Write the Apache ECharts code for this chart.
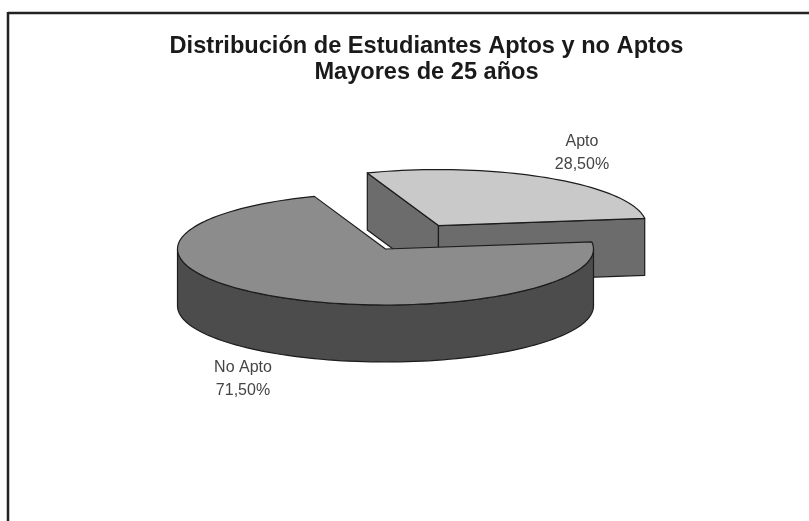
<!DOCTYPE html>
<html>
<head>
<meta charset="utf-8">
<title>Distribución de Estudiantes Aptos y no Aptos</title>
<script src="https://cdn.jsdelivr.net/npm/echarts@6/dist/echarts.min.js"></script>
<style>
  html, body { margin: 0; padding: 0; background: #fff; }
  #chart { width: 809px; height: 521px; }
</style>
</head>
<body>
<div id="chart"></div>
<script>
const categories = ['Apto', 'No Apto']
const percents = [28.5, 71.5]
const titleLines = ['Distribución de Estudiantes Aptos y no Aptos', 'Mayores de 25 años']

// first slice starts here, angles run clockwise as in the original spreadsheet chart
const START_DEG = 110
const EXPLODE = 0.49
const CENTER = [385.5, 249]
const RX = 208
const RY = 56
const DEPTH = 57

const TOP_COLORS = ['#c9c9c9', '#8c8c8c']
const WALL_COLORS = ['#6c6c6c', '#4c4c4c']
const EDGE = '#1c1c1c'
const LABEL_POS = [[582, 153], [243, 379]]

// slice angles in math degrees, built from the percents
const total = percents.reduce((a, b) => a + b, 0)
const slices = []
let cursor = START_DEG
percents.forEach(p => {
  const sweep = p / total * 360
  slices.push({ from: cursor, to: cursor - sweep })
  cursor -= sweep
})

function rim(cx, cy, deg) {
  const r = deg * Math.PI / 180
  return [cx + RX * Math.cos(r), cy - RY * Math.sin(r)]
}

function arcPoints(cx, cy, from, to) {
  const steps = Math.ceil(Math.abs(to - from) / 2)
  const pts = []
  for (let i = 0; i <= steps; i++) pts.push(rim(cx, cy, from + (to - from) * i / steps))
  return pts
}

function poly(points, fill) {
  return {
    type: 'polygon',
    shape: { points },
    style: { fill, stroke: EDGE, lineWidth: 1.2, lineJoin: 'round' }
  }
}

function drop(points) {
  return points.map(p => [p[0], p[1] + DEPTH])
}

function renderSlice(params) {
  const i = params.dataIndex
  const s = slices[i]
  const mid = (s.from + s.to) / 2 * Math.PI / 180
  // an exploded slice slides along its own middle angle
  const off = i === 0 ? EXPLODE : 0
  const cx = CENTER[0] + off * RX * Math.cos(mid)
  const cy = CENTER[1] - off * RY * Math.sin(mid)
  const apex = [cx, cy]
  const a = rim(cx, cy, s.from)
  const b = rim(cx, cy, s.to)
  const children = []

  if (i === 0) {
    // cut faces of the pulled out slice
    children.push(poly([apex, a, ...drop([a]), ...drop([apex])], WALL_COLORS[0]))
    children.push(poly([apex, b, ...drop([b]), ...drop([apex])], WALL_COLORS[0]))
  } else {
    // outer wall, only the front half of the ellipse shows
    const front = arcPoints(cx, cy, -180, 0)
    children.push(poly([...front, ...drop(front).reverse()], WALL_COLORS[1]))
  }
  children.push(poly([apex, ...arcPoints(cx, cy, s.from, s.to)], TOP_COLORS[i]))

  const label = categories[i] + '\n' + percents[i].toFixed(2).replace('.', ',') + '%'
  children.push({
    type: 'text',
    style: {
      x: LABEL_POS[i][0],
      y: LABEL_POS[i][1],
      text: label,
      fill: '#444444',
      font: '16px "Liberation Sans"',
      lineHeight: 23,
      align: 'center',
      verticalAlign: 'middle'
    }
  })
  return { type: 'group', children }
}

const chart = echarts.init(document.getElementById('chart'), null, { renderer: 'canvas' })
chart.setOption({
  animation: false,
  backgroundColor: '#ffffff',
  title: {
    text: titleLines[0] + '\n' + titleLines[1],
    left: 421.5,
    top: 28,
    textAlign: 'center',
    textStyle: {
      fontFamily: 'Liberation Sans',
      fontSize: 23.6,
      fontWeight: 'bold',
      color: '#1a1a1a',
      lineHeight: 26
    }
  },
  graphic: [
    { type: 'line', silent: true, shape: { x1: 8, y1: 13, x2: 809, y2: 13 }, style: { stroke: '#222', lineWidth: 2.5 } },
    { type: 'line', silent: true, shape: { x1: 8, y1: 12, x2: 8, y2: 521 }, style: { stroke: '#222', lineWidth: 2.5 } }
  ],
  series: [{
    type: 'custom',
    coordinateSystem: 'none',
    renderItem: renderSlice,
    data: categories.map((name, i) => ({ name, value: percents[i] }))
  }]
})
</script>
</body>
</html>
